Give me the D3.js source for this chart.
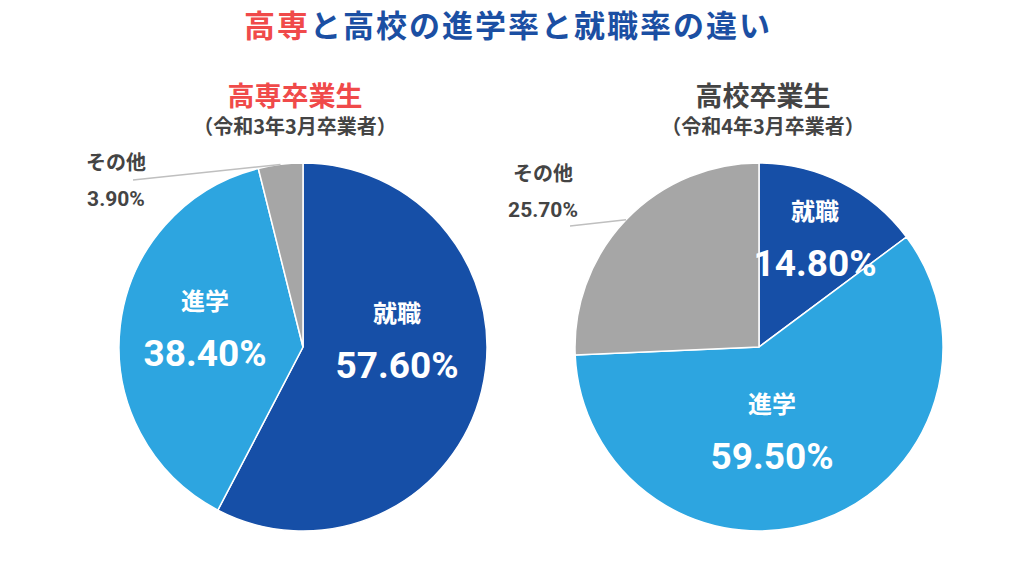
<!DOCTYPE html>
<html><head><meta charset="utf-8">
<script src="https://cdn.jsdelivr.net/npm/d3@7"></script>
<style>body{margin:0;background:#fff}svg{display:block}text{font-family:"Noto Sans CJK JP","Noto Sans",sans-serif;font-weight:700}text.num{font-family:Roboto,"Noto Sans CJK JP",sans-serif}</style>
</head><body>
<svg id="c" width="1024" height="575"></svg>
<script>
const categories = ["就職", "進学", "その他"];
const kosenValues = [57.6, 38.4, 3.9];
const koukouValues = [14.8, 59.5, 25.7];
const valueLabels = [["57.60%", "38.40%", "3.90%"], ["14.80%", "59.50%", "25.70%"]];
const chartTitles = ["高専卒業生", "高校卒業生"];
const chartSubtitles = ["（令和3年3月卒業者）", "（令和4年3月卒業者）"];

const colors = ["#164fa7", "#2da5e0", "#a6a6a6"];
const svg = d3.select("#c");
const W = 1024;

// main title
const t = svg.append("text").attr("x", W / 2 - 4).attr("y", 37).attr("text-anchor", "middle")
  .style("font-size", "31px").style("letter-spacing", "2px");
t.append("tspan").attr("fill", "#f04a4a").text("高専");
t.append("tspan").attr("fill", "#1b4fa3").text("と高校の進学率と就職率の違い");

const charts = [
  {values: kosenValues, cx: 303, cy: 347, titleX: 295, titleColor: "#f04a4a",
   inner: [[94, -7], [-98, -19]], outer: {idx: 2, tx: 116, ty: 170}},
  {values: koukouValues, cx: 759, cy: 347, titleX: 763, titleColor: "#444444",
   inner: [[56, -109], [13, 84]], outer: {idx: 2, tx: 543, ty: 181}}
];
const R = 184;
const pie = d3.pie().sort(null).value(d => d);
const arc = d3.arc().innerRadius(0).outerRadius(R);

charts.forEach((c, ci) => {
  svg.append("text").attr("x", c.titleX).attr("y", 106).attr("text-anchor", "middle")
    .attr("fill", c.titleColor).style("font-size", "27px").text(chartTitles[ci]);
  svg.append("text").attr("x", c.titleX).attr("y", 134).attr("text-anchor", "middle")
    .attr("fill", "#444").style("font-size", "20px").text(chartSubtitles[ci]);

  const g = svg.append("g").attr("transform", `translate(${c.cx},${c.cy})`);
  const arcs = pie(c.values);
  g.selectAll("path").data(arcs).join("path")
    .attr("d", arc).attr("fill", (d, i) => colors[i])
    .attr("stroke", "#fff").attr("stroke-width", 1.5);

  // inside labels
  c.inner.forEach((off, i) => {
    g.append("text").attr("x", off[0]).attr("y", off[1] - 18).attr("text-anchor", "middle")
      .attr("fill", "#fff").style("font-size", "24px").text(categories[i]);
    g.append("text").attr("class", "num").attr("x", off[0]).attr("y", off[1] + 38).attr("text-anchor", "middle")
      .attr("fill", "#fff").style("font-size", "37px").text(valueLabels[ci][i]);
  });

  // outside label with leader line
  const o = c.outer;
  const a = arcs[o.idx];
  const mid = (a.startAngle + a.endAngle) / 2;
  const px = c.cx + R * Math.sin(mid), py = c.cy - R * Math.cos(mid);
  svg.append("line").attr("x1", px).attr("y1", py)
    .attr("x2", o.tx + (ci === 0 ? 17 : 27)).attr("y2", o.ty + (ci === 0 ? 10 : 45))
    .attr("stroke", "#bfbfbf").attr("stroke-width", 1.5);
  svg.append("text").attr("x", o.tx).attr("y", o.ty).attr("text-anchor", "middle")
    .attr("fill", "#444").style("font-size", "20px").text(categories[o.idx]);
  svg.append("text").attr("class", "num").attr("x", o.tx).attr("y", o.ty + 36).attr("text-anchor", "middle")
    .attr("fill", "#444").style("font-size", "21px").text(valueLabels[ci][o.idx]);
});
</script>
</body></html>
